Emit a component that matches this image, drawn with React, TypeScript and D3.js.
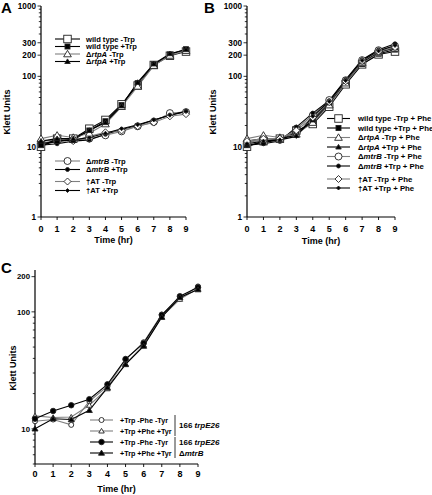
import React from "react";
import * as d3 from "d3";

const HOURS = [0, 1, 2, 3, 4, 5, 6, 7, 8, 9];

// Panel A
const A_wtMinus = [10, 13, 13, 18, 24, 40, 74, 145, 196, 225];
const A_wtPlus = [10.5, 12, 12.5, 17, 23, 39, 80, 148, 205, 243];
const A_rtpAMinus = [13, 14.5, 13.5, 15.5, 21, 37, 72, 142, 198, 232];
const A_rtpAPlus = [12, 13, 13, 17, 22, 38, 82, 150, 210, 240];
const A_mtrBMinus = [11, 12.5, 12.5, 13, 14.5, 16.5, 19.5, 22.5, 30, 31];
const A_mtrBPlus = [10.5, 11, 12, 12.5, 15, 17.5, 20, 24, 28, 32];
const A_ATMinus = [12, 12.5, 12, 14, 16, 17, 19.5, 22, 27, 29];
const A_ATPlus = [11, 12, 12.5, 13.5, 15.5, 18, 20.5, 24, 28, 31.5];

// Panel B
const B_wtMinus = [10, 12, 13, 17, 21, 37, 77, 148, 205, 225];
const B_wtPlus = [10.5, 11.5, 12.5, 16, 23, 40, 82, 150, 210, 240];
const B_rtpAMinus = [13, 14.5, 13.5, 15, 22, 39, 80, 155, 215, 250];
const B_rtpAPlus = [12, 13, 13, 14.5, 24, 42, 85, 160, 220, 255];
const B_mtrBMinus = [11.5, 12.5, 12.5, 18, 28, 46, 88, 170, 235, 270];
const B_mtrBPlus = [10.5, 11, 12, 19, 30, 45, 90, 172, 238, 290];
const B_ATMinus = [12, 13, 13, 17, 26, 43, 85, 165, 225, 260];
const B_ATPlus = [11, 12, 12.5, 14, 27, 44, 87, 168, 230, 275];

// Panel C
const C_trpMinus = [11.6, 12, 10.8, 17.2, 23, 39, 55, 95, 130, 165];
const C_trpPlus = [12.9, 12.5, 12.6, 15.9, 22, 36, 52, 91, 128, 158];
const C_mtrMinus = [12.2, 14.2, 15.9, 17.9, 24, 39.5, 54, 94, 136, 162];
const C_mtrPlus = [10, 12.2, 12, 14.4, 22.5, 35.5, 51, 90, 133, 155];

const AB_Y_LABELS = [1, 10, 100, 200, 300, 1000];
const C_Y_LABELS = [10, 100, 200];

const FONT = "'Liberation Sans', Arial, sans-serif";

type Shape = "square" | "circle" | "triangle" | "diamond";
interface Series {
  values: number[];
  shape: Shape;
  filled: boolean;
  size: number;
  line: string;
}

function Marker({ x, y, shape, filled, size }: { x: number; y: number; shape: Shape; filled: boolean; size: number }) {
  const fill = filled ? "#000" : "#fff";
  const stroke = "#222";
  const sw = 0.9;
  const h = size / 2;
  if (shape === "square") return <rect x={x - h} y={y - h} width={size} height={size} fill={fill} stroke={stroke} strokeWidth={sw} />;
  if (shape === "circle") return <circle cx={x} cy={y} r={h} fill={fill} stroke={stroke} strokeWidth={sw} />;
  if (shape === "triangle") {
    const pts = `${x},${y - h * 1.05} ${x - h * 1.1},${y + h * 0.8} ${x + h * 1.1},${y + h * 0.8}`;
    return <polygon points={pts} fill={fill} stroke={stroke} strokeWidth={sw} />;
  }
  const pts = `${x},${y - h} ${x + h},${y} ${x},${y + h} ${x - h},${y}`;
  return <polygon points={pts} fill={fill} stroke={stroke} strokeWidth={sw} />;
}

function LogPanel({ xRange, yRange, yDomain, yLabels, series, titleY, yTitleX, xLabelY, timeY, labelSize }: any) {
  const x = d3.scaleLinear().domain([0, 9]).range(xRange);
  const y = d3.scaleLog().domain(yDomain).range(yRange);
  const [ymin, ymax] = yDomain;
  const minor: number[] = [];
  for (let dec = 1; dec <= 1000; dec *= 10) {
    for (let k = 1; k <= 9; k++) {
      const v = k * dec;
      if (v >= ymin - 1e-9 && v <= ymax + 1e-9) minor.push(v);
    }
  }
  const line = d3
    .line<number>()
    .x((_, i) => x(HOURS[i]))
    .y((d) => y(d));
  const x0 = xRange[0];
  return (
    <g>
      <line x1={x0} x2={x0} y1={yRange[0]} y2={yRange[1]} stroke="#000" strokeWidth={1.2} />
      {minor.map((v) => {
        const major = Math.abs(Math.log10(v) - Math.round(Math.log10(v))) < 1e-9 || yLabels.includes(v);
        return <line key={v} x1={x0 - (major ? 3.5 : 2.2)} x2={x0} y1={y(v)} y2={y(v)} stroke="#000" strokeWidth={0.8} />;
      })}
      {yLabels.map((v: number) => (
        <text key={v} x={x0 - 5} y={y(v)} dy="0.35em" textAnchor="end" fontSize={labelSize} fontWeight="bold" fontFamily={FONT}>
          {v}
        </text>
      ))}
      <line x1={x0} x2={xRange[1]} y1={yRange[0]} y2={yRange[0]} stroke="#000" strokeWidth={1.2} />
      {HOURS.map((h) => (
        <g key={h}>
          <line x1={x(h)} x2={x(h)} y1={yRange[0]} y2={yRange[0] + 3} stroke="#000" strokeWidth={0.9} />
          <text x={x(h)} y={xLabelY} dy="0.35em" textAnchor="middle" fontSize={9} fontWeight="bold" fontFamily={FONT}>
            {h}
          </text>
        </g>
      ))}
      <text x={(xRange[0] + xRange[1]) / 2} y={timeY} dy="0.35em" textAnchor="middle" fontSize={9} fontWeight="bold" fontFamily={FONT}>
        Time (hr)
      </text>
      <text
        transform={`translate(${yTitleX},${titleY}) rotate(-90)`}
        textAnchor="middle"
        dy="0.35em"
        fontSize={9}
        fontWeight="bold"
        fontFamily={FONT}
      >
        Klett Units
      </text>
      {series.map((s: Series, i: number) => (
        <path key={"l" + i} d={line(s.values) || ""} fill="none" stroke={s.line} strokeWidth={1.1} />
      ))}
      {series.map((s: Series, i: number) => (
        <g key={"m" + i}>
          {s.values.map((v, j) => (
            <Marker key={j} x={x(HOURS[j])} y={y(v)} shape={s.shape} filled={s.filled} size={s.size} />
          ))}
        </g>
      ))}
    </g>
  );
}

function LegendRow({ x1, x2, y, s, children, tx, fs }: any) {
  return (
    <g>
      <line x1={x1} x2={x2} y1={y} y2={y} stroke={s.line} strokeWidth={1.1} />
      <Marker x={(x1 + x2) / 2} y={y} shape={s.shape} filled={s.filled} size={s.size} />
      <text x={tx} y={y} dy="0.35em" fontSize={fs} fontWeight="bold" fontFamily={FONT}>
        {children}
      </text>
    </g>
  );
}

const GRAY = "#808080";
const mk = (values: number[], shape: Shape, filled: boolean, size: number, line: string): Series => ({ values, shape, filled, size, line });

export default function App() {
  const A = [
    mk(A_mtrBMinus, "circle", false, 7, GRAY),
    mk(A_mtrBPlus, "circle", true, 4, "#000"),
    mk(A_ATMinus, "diamond", false, 7, GRAY),
    mk(A_ATPlus, "diamond", true, 4, "#000"),
    mk(A_wtMinus, "square", false, 7.5, "#000"),
    mk(A_wtPlus, "square", true, 5, "#000"),
    mk(A_rtpAMinus, "triangle", false, 7, GRAY),
    mk(A_rtpAPlus, "triangle", true, 5, "#000"),
  ];
  const B = [
    mk(B_wtMinus, "square", false, 7.5, "#000"),
    mk(B_wtPlus, "square", true, 5, "#000"),
    mk(B_rtpAMinus, "triangle", false, 7, GRAY),
    mk(B_rtpAPlus, "triangle", true, 5, "#000"),
    mk(B_mtrBMinus, "circle", false, 7, GRAY),
    mk(B_mtrBPlus, "circle", true, 4, "#000"),
    mk(B_ATMinus, "diamond", false, 7, GRAY),
    mk(B_ATPlus, "diamond", true, 4, "#000"),
  ];
  const C = [
    mk(C_trpMinus, "circle", false, 5, GRAY),
    mk(C_trpPlus, "triangle", false, 5, GRAY),
    mk(C_mtrMinus, "circle", true, 5.5, "#000"),
    mk(C_mtrPlus, "triangle", true, 5.5, "#000"),
  ];
  const fsA = 7.6;
  const fsB = 7.8;
  const fsC = 7.2;
  const it = (t: string) => <tspan fontStyle="italic">{t}</tspan>;
  return (
    <svg width={432} height={495} style={{ position: "absolute", left: 0, top: 0 }}>
      <rect width={432} height={495} fill="#fff" />
      <text x={1} y={13} fontSize={15} fontWeight="bold" fontFamily={FONT}>A</text>
      <text x={204} y={13} fontSize={15} fontWeight="bold" fontFamily={FONT}>B</text>
      <text x={1} y={273} fontSize={15} fontWeight="bold" fontFamily={FONT}>C</text>

      <LogPanel xRange={[41, 186]} yRange={[217, 6]} yDomain={[1, 1000]} yLabels={AB_Y_LABELS} series={A}
        titleY={112} yTitleX={7} xLabelY={229} timeY={240} labelSize={8.2} />
      <LogPanel xRange={[247, 395]} yRange={[217, 6]} yDomain={[1, 1000]} yLabels={AB_Y_LABELS} series={B}
        titleY={112} yTitleX={213} xLabelY={229} timeY={241} labelSize={8.2} />
      <LogPanel xRange={[35, 198]} yRange={[464, 270]} yDomain={[5, 228]} yLabels={C_Y_LABELS} series={C}
        titleY={368} yTitleX={13} xLabelY={474} timeY={489} labelSize={7.8} />

      <LegendRow x1={55} x2={80} y={39} s={A[4]} tx={86} fs={fsA}>wild type -Trp</LegendRow>
      <LegendRow x1={55} x2={80} y={46.5} s={A[5]} tx={86} fs={fsA}>wild type +Trp</LegendRow>
      <LegendRow x1={55} x2={80} y={54} s={A[6]} tx={86} fs={fsA}>Δ{it("rtpA")} -Trp</LegendRow>
      <LegendRow x1={55} x2={80} y={61.5} s={A[7]} tx={86} fs={fsA}>Δ{it("rtpA")} +Trp</LegendRow>
      <LegendRow x1={55} x2={80} y={161} s={A[0]} tx={86} fs={fsA}>Δ{it("mtrB")} -Trp</LegendRow>
      <LegendRow x1={55} x2={80} y={169.5} s={A[1]} tx={86} fs={fsA}>Δ{it("mtrB")} +Trp</LegendRow>
      <LegendRow x1={55} x2={80} y={181.5} s={A[2]} tx={86} fs={fsA}>†AT -Trp</LegendRow>
      <LegendRow x1={55} x2={80} y={190.5} s={A[3]} tx={86} fs={fsA}>†AT +Trp</LegendRow>

      <LegendRow x1={327} x2={350} y={118.5} s={B[0]} tx={358} fs={fsB}>wild type -Trp + Phe</LegendRow>
      <LegendRow x1={327} x2={350} y={128} s={B[1]} tx={358} fs={fsB}>wild type +Trp + Phe</LegendRow>
      <LegendRow x1={327} x2={350} y={137.5} s={B[2]} tx={358} fs={fsB}>Δ{it("rtpA")} -Trp + Phe</LegendRow>
      <LegendRow x1={327} x2={350} y={147} s={B[3]} tx={358} fs={fsB}>Δ{it("rtpA")} +Trp + Phe</LegendRow>
      <LegendRow x1={327} x2={350} y={156.5} s={B[4]} tx={358} fs={fsB}>Δ{it("mtrB")} -Trp + Phe</LegendRow>
      <LegendRow x1={327} x2={350} y={166} s={B[5]} tx={358} fs={fsB}>Δ{it("mtrB")} +Trp + Phe</LegendRow>
      <LegendRow x1={327} x2={350} y={179} s={B[6]} tx={358} fs={fsB}>†AT -Trp + Phe</LegendRow>
      <LegendRow x1={327} x2={350} y={188} s={B[7]} tx={358} fs={fsB}>†AT +Trp + Phe</LegendRow>

      <LegendRow x1={90} x2={113} y={420} s={C[0]} tx={120} fs={fsC}>+Trp -Phe -Tyr</LegendRow>
      <LegendRow x1={90} x2={113} y={431} s={C[1]} tx={120} fs={fsC}>+Trp +Phe +Tyr</LegendRow>
      <LegendRow x1={90} x2={113} y={442} s={C[2]} tx={120} fs={fsC}>+Trp -Phe -Tyr</LegendRow>
      <LegendRow x1={90} x2={113} y={453} s={C[3]} tx={120} fs={fsC}>+Trp +Phe +Tyr</LegendRow>
      <line x1={175} x2={175} y1={415} y2={436} stroke="#000" strokeWidth={0.8} />
      <line x1={175} x2={175} y1={437} y2={458} stroke="#000" strokeWidth={0.8} />
      <text x={179} y={425} dy="0.35em" fontSize={8} fontWeight="bold" fontFamily={FONT}>166 {it("trpE26")}</text>
      <text x={179} y={442} dy="0.35em" fontSize={8} fontWeight="bold" fontFamily={FONT}>166 {it("trpE26")}</text>
      <text x={179} y={453} dy="0.35em" fontSize={8} fontWeight="bold" fontFamily={FONT}>Δ{it("mtrB")}</text>
    </svg>
  );
}
